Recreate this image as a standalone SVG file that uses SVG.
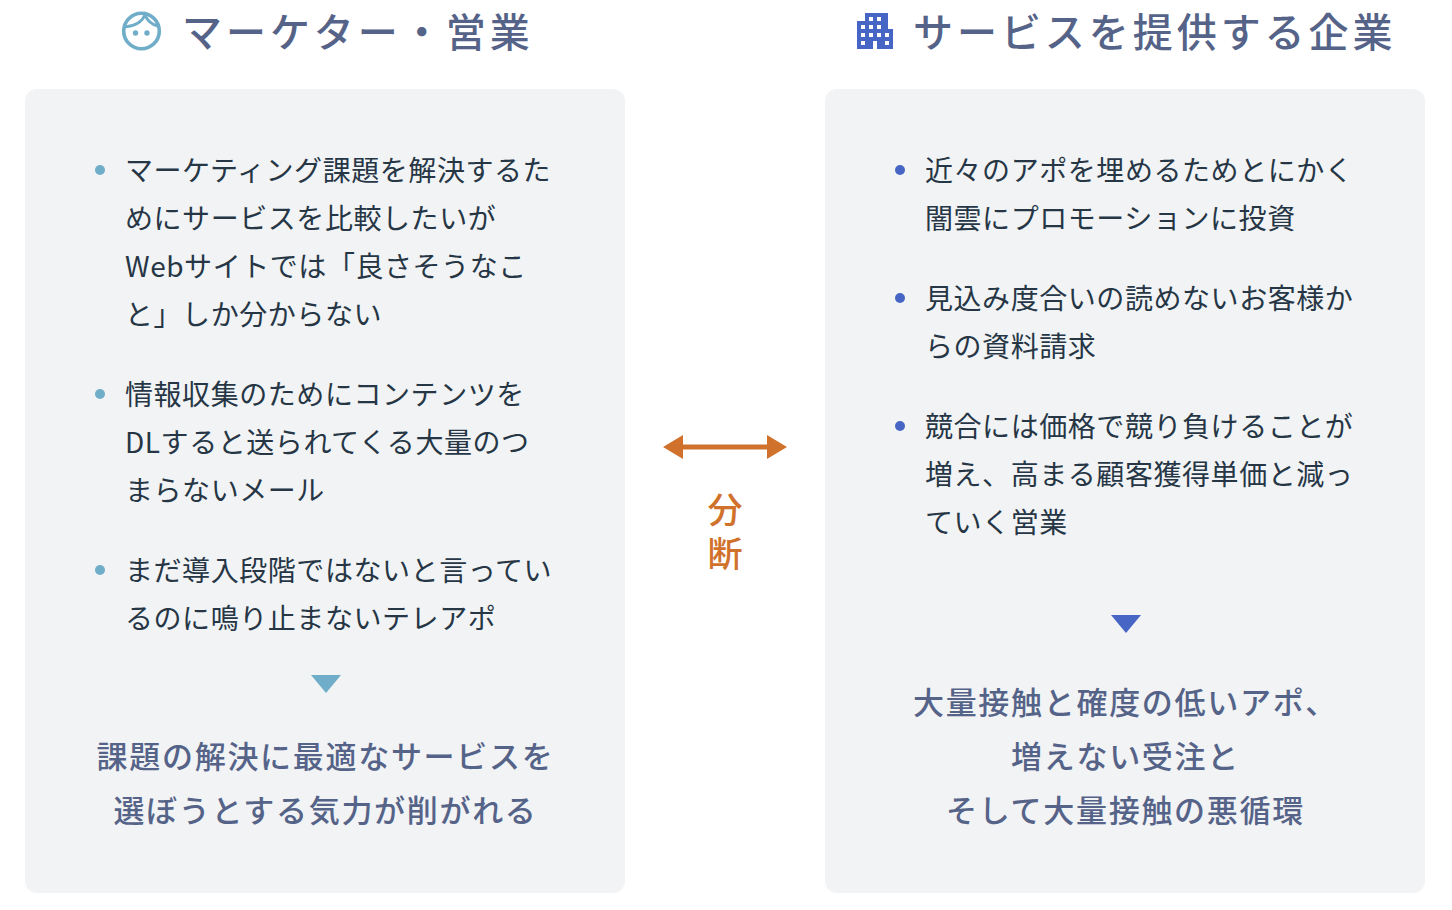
<svg xmlns="http://www.w3.org/2000/svg" width="1452" height="910" viewBox="0 0 1452 910">
<style>
text{font-family:"Noto Sans CJK JP","Noto Sans",sans-serif}
.panel{fill:#f1f3f5}
.h{font-size:40px;letter-spacing:3.95px;fill:#566388;font-weight:500}
.b{font-size:28px;letter-spacing:.56px;fill:#263645;font-weight:400}
.s{font-size:31px;letter-spacing:1.7px;fill:#566388;font-weight:500;text-anchor:middle}
.d{font-size:35px;fill:#d0722c;font-weight:500;text-anchor:middle}
.c1{fill:#6fadc8}.c2{fill:#4765c4}
</style>
<rect width="1452" height="910" fill="#fff"/>
<g id="left-header">
<circle cx="141.500" cy="31" r="17.800" fill="none" stroke="#6fadc8" stroke-width="3.600"/>
<path d="M125 27C134 26 142 22 145 15C148 22 153 25 158 26" fill="none" stroke="#6fadc8" stroke-width="3"/>
<circle class="c1" cx="135.500" cy="33" r="2.700"/><circle class="c1" cx="147" cy="33" r="2.700"/>
<text class="h" x="182" y="46.500">マーケター・営業</text>
</g>
<g id="right-header">
<path class="c2" fill-rule="evenodd" d="M865 13h23v16h5v20h-36v-28h8zM869 17v4h4v-4zM877 17v4h4v-4zM869 25v4h4v-4zM877 25v4h4v-4zM861 33v4h4v-4zM869 33v4h4v-4zM877 33v4h4v-4zM885 33v4h4v-4zM861 41v4h4v-4zM885 41v4h4v-4zM873 41v8h4v-8zM861 25v4h4v-4z"/>
<text class="h" x="913" y="46.500">サービスを提供する企業</text>
</g>
<g id="left-panel">
<rect class="panel" x="25" y="89" width="600" height="804" rx="12"/>
<circle class="c1" cx="100" cy="170" r="5"/><circle class="c1" cx="100" cy="394" r="5"/><circle class="c1" cx="100" cy="570" r="5"/>
<text class="b" x="125" y="181">マーケティング課題を解決するた</text>
<text class="b" x="125" y="229">めにサービスを比較したいが</text>
<text class="b" x="125" y="277">Webサイトでは「良さそうなこ</text>
<text class="b" x="125" y="325">と」しか分からない</text>
<text class="b" x="125" y="405">情報収集のためにコンテンツを</text>
<text class="b" x="125" y="453">DLすると送られてくる大量のつ</text>
<text class="b" x="125" y="501">まらないメール</text>
<text class="b" x="125" y="581">まだ導入段階ではないと言ってい</text>
<text class="b" x="125" y="629">るのに鳴り止まないテレアポ</text>
<path class="c1" d="M311 675h30l-15 18z"/>
<text class="s" x="325.500" y="768">課題の解決に最適なサービスを</text>
<text class="s" x="325.500" y="822">選ぼうとする気力が削がれる</text>
</g>
<g id="right-panel">
<rect class="panel" x="825" y="89" width="600" height="804" rx="12"/>
<circle class="c2" cx="900" cy="170" r="5"/><circle class="c2" cx="900" cy="298" r="5"/><circle class="c2" cx="900" cy="426" r="5"/>
<text class="b" x="925" y="181">近々のアポを埋めるためとにかく</text>
<text class="b" x="925" y="229">闇雲にプロモーションに投資</text>
<text class="b" x="925" y="309">見込み度合いの読めないお客様か</text>
<text class="b" x="925" y="357">らの資料請求</text>
<text class="b" x="925" y="437">競合には価格で競り負けることが</text>
<text class="b" x="925" y="485">増え、高まる顧客獲得単価と減っ</text>
<text class="b" x="925" y="533">ていく営業</text>
<path class="c2" d="M1111 615h30l-15 18z"/>
<text class="s" x="1125.500" y="714">大量接触と確度の低いアポ、</text>
<text class="s" x="1125.500" y="768">増えない受注と</text>
<text class="s" x="1125.500" y="822">そして大量接触の悪循環</text>
</g>
<g id="connectors">
<path d="M683 444.500h84v5h-84z" fill="#d0722c"/>
<path d="M663 447l20-12v24zM787 447l-20-12v24z" fill="#d0722c"/>
</g>
<g id="divide-label">
<text class="d"><tspan x="725" y="523">分</tspan><tspan x="725" y="567">断</tspan></text>
</g>
</svg>
